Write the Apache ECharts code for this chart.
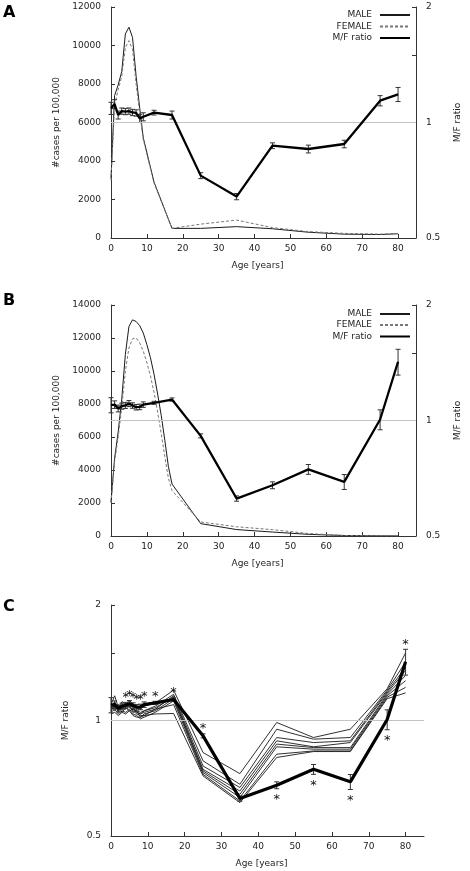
<!DOCTYPE html>
<html><head><meta charset="utf-8">
<script src="https://cdn.jsdelivr.net/npm/echarts@6/dist/echarts.min.js"></script>
<style>html,body{margin:0;padding:0;background:#fff}#c{width:470px;height:871px}</style>
</head><body><div id="c"></div>
<script>
// ---------- data ----------
const xTicks = [0,10,20,30,40,50,60,70,80];
const ratioTicks = [0.5,1,1.5,2];
const ratioLabels = [0.5,1,2];

const ageA = [0,1,2,3,4,5,6,7,8,9,12,17,25,35,45,55,65,75,80];
const maleA = [3100,7400,7950,8650,10600,10950,10420,8400,6750,5200,2900,500,500,590,480,300,200,180,220];
const femaleA = [3000,6900,7700,8400,9900,10250,9800,8000,6500,5100,2850,500,720,930,540,330,240,200,230];
const ratioA = [1.089,1.117,1.046,1.071,1.068,1.071,1.062,1.059,1.025,1.035,1.061,1.046,0.727,0.641,0.870,0.853,0.879,1.140,1.184];
const ratioAErr = [0.04,0.03,0.025,0.02,0.02,0.02,0.02,0.02,0.025,0.025,0.015,0.025,0.013,0.012,0.015,0.02,0.02,0.035,0.05];

const ageBInc = [0,1,2,3,4,5,6,7,8,9,10,11,12,13,14,15,16,17,25,35,45,55,65,75,80];
const maleB = [2060,4700,6300,8300,11000,12700,13100,13000,12750,12300,11600,10800,9800,8600,7300,5800,4200,3150,750,390,240,100,30,10,5];
const femaleB = [2000,4500,6000,7800,10000,11400,11950,12000,11700,11200,10500,9700,8700,7500,6200,4800,3500,2750,850,560,385,150,30,10,5];
const ageB = [0,1,2,3,4,5,6,7,8,9,12,17,25,35,45,55,65,75,80];
const ratioB = [1.097,1.10,1.075,1.09,1.095,1.107,1.094,1.083,1.085,1.10,1.112,1.134,0.912,0.626,0.678,0.746,0.692,1.006,1.423];
const ratioBErr = [0.05,0.025,0.022,0.02,0.02,0.02,0.018,0.018,0.018,0.018,0.01,0.011,0.011,0.01,0.014,0.022,0.031,0.06,0.11];

const ageC = [0,1,2,3,4,5,6,7,8,9,12,17,25,35,45,55,65,75,80];
const thinC1 = [1.10,1.16,1.08,1.12,1.10,1.13,1.10,1.08,1.07,1.09,1.11,1.20,0.825,0.727,0.988,0.903,0.949,1.21,1.50];
const thinC2 = [1.08,1.12,1.06,1.10,1.09,1.11,1.08,1.05,1.04,1.06,1.09,1.17,0.785,0.682,0.949,0.894,0.903,1.20,1.42];
const thinC3 = [1.06,1.10,1.05,1.08,1.07,1.09,1.06,1.04,1.03,1.03,1.07,1.16,0.761,0.669,0.903,0.876,0.885,1.19,1.375];
const thinC4 = [1.09,1.08,1.10,1.07,1.11,1.08,1.07,1.06,1.05,1.06,1.08,1.15,0.746,0.655,0.885,0.854,0.876,1.18,1.35];
const thinC5 = [1.07,1.09,1.07,1.09,1.08,1.10,1.05,1.06,1.02,1.04,1.06,1.14,0.739,0.642,0.868,0.850,0.850,1.17,1.31];
const thinC6 = [1.05,1.07,1.04,1.06,1.05,1.07,1.04,1.03,1.01,1.02,1.05,1.125,0.732,0.630,0.854,0.842,0.842,1.16,1.27];
const thinC7 = [1.08,1.06,1.09,1.05,1.08,1.06,1.07,1.05,1.04,1.05,1.07,1.10,0.724,0.617,0.817,0.833,0.833,1.15,1.22];
const thinC8 = [1.04,1.05,1.03,1.05,1.04,1.06,1.03,1.02,1.02,1.03,1.04,1.043,0.717,0.611,0.801,0.830,0.830,1.14,1.18];
const thinC = [thinC1,thinC2,thinC3,thinC4,thinC5,thinC6,thinC7,thinC8];
const boldC = ratioB;
const boldCErr = ratioBErr;
const starAges = [4,5,6,7,8,9,12,17,25,45,55,65,75,80];
const starSide = [1,1,1,1,1,1,1,1,1,-1,-1,-1,-1,1];

// ---------- chart ----------
const FONT = '"DejaVu Sans", sans-serif';
const txt = {fontFamily: FONT, fontSize: 9, color: '#222'};
const AX = '#333';

function xAxisFor(gi){
  return {type:'value', gridIndex:gi, min:0, max:85, interval:10,
    name:'Age [years]', nameLocation:'middle', nameGap:23,
    nameTextStyle:Object.assign({}, txt, {padding:[0,12,0,0]}),
    axisLine:{show:true, lineStyle:{color:AX, width:1}},
    axisTick:{show:true, inside:true, length:4, customValues:xTicks, lineStyle:{color:AX}},
    axisLabel:Object.assign({}, txt, {margin:6, customValues:xTicks}),
    splitLine:{show:false}};
}
function yLeft(gi, max){
  return {type:'value', gridIndex:gi, min:0, max:max, interval:2000, position:'left',
    name:'#cases per 100,000', nameLocation:'middle', nameGap:41, nameTextStyle:txt,
    axisLine:{show:true, lineStyle:{color:AX}},
    axisTick:{show:true, inside:true, length:4, lineStyle:{color:AX}},
    axisLabel:Object.assign({}, txt, {margin:10, formatter:function(v){return String(v);}}),
    splitLine:{show:false}};
}
function yRatio(gi, pos, gap){
  return {type:'log', logBase:2, gridIndex:gi, min:0.5, max:2, position:pos,
    name:'M/F ratio', nameLocation:'middle', nameGap:gap, nameTextStyle:txt,
    axisLine:{show:true, lineStyle:{color:AX}},
    axisTick:{show:true, inside:true, length:4, customValues:ratioTicks, lineStyle:{color:AX}},
    axisLabel:Object.assign({}, txt, {margin:10, customValues:ratioLabels}),
    splitLine:{show:false}};
}
function pairs(xs, ys){ return xs.map((x,i)=>[x, ys[i]]); }
function errSeries(xi, yi, ages, vals, errs){
  return {type:'custom', xAxisIndex:xi, yAxisIndex:yi, z:4, silent:true,
    data: ages.map((a,i)=>[a, vals[i]-errs[i], vals[i]+errs[i]]),
    encode:{x:0, y:[1,2]},
    renderItem:function(params, api){
      const lo = api.coord([api.value(0), api.value(1)]);
      const hi = api.coord([api.value(0), api.value(2)]);
      const w = 2.5, st = {stroke:'#333', lineWidth:1};
      return {type:'group', children:[
        {type:'line', shape:{x1:lo[0],y1:lo[1],x2:hi[0],y2:hi[1]}, style:st},
        {type:'line', shape:{x1:lo[0]-w,y1:lo[1],x2:lo[0]+w,y2:lo[1]}, style:st},
        {type:'line', shape:{x1:hi[0]-w,y1:hi[1],x2:hi[0]+w,y2:hi[1]}, style:st}
      ]};
    }};
}
const refLine = {silent:true, symbol:'none', label:{show:false}, animation:false,
  lineStyle:{color:'#c4c4c4', width:1, type:'solid'}, data:[{yAxis:1}]};

const series = [];
// Panel A
series.push({name:'MALE', type:'line', xAxisIndex:0, yAxisIndex:0, data:pairs(ageA, maleA), symbol:'none', z:2,
  lineStyle:{color:'#1a1a1a', width:1}, itemStyle:{color:'#1a1a1a'}});
series.push({name:'FEMALE', type:'line', xAxisIndex:0, yAxisIndex:0, data:pairs(ageA, femaleA), symbol:'none', z:2,
  lineStyle:{color:'#777', width:1, type:[3,2]}, itemStyle:{color:'#777'}});
series.push({name:'M/F ratio', type:'line', xAxisIndex:0, yAxisIndex:1, data:pairs(ageA, ratioA), symbol:'none', z:5,
  lineStyle:{color:'#000', width:2.3}, itemStyle:{color:'#000'}, markLine:refLine});
series.push(errSeries(0, 1, ageA, ratioA, ratioAErr));
// Panel B
series.push({name:'MALE', type:'line', xAxisIndex:1, yAxisIndex:2, data:pairs(ageBInc, maleB), symbol:'none', z:2,
  lineStyle:{color:'#1a1a1a', width:1}, itemStyle:{color:'#1a1a1a'}});
series.push({name:'FEMALE', type:'line', xAxisIndex:1, yAxisIndex:2, data:pairs(ageBInc, femaleB), symbol:'none', z:2,
  lineStyle:{color:'#777', width:1, type:[3,2]}, itemStyle:{color:'#777'}});
series.push({name:'M/F ratio', type:'line', xAxisIndex:1, yAxisIndex:3, data:pairs(ageB, ratioB), symbol:'none', z:5,
  lineStyle:{color:'#000', width:2.3}, itemStyle:{color:'#000'}, markLine:refLine});
series.push(errSeries(1, 3, ageB, ratioB, ratioBErr));
// Panel C
thinC.forEach((arr, k)=>{
  series.push({name:'c'+(k+1), type:'line', xAxisIndex:2, yAxisIndex:4, data:pairs(ageC, arr), symbol:'none', z:2,
    lineStyle:{color:'#1a1a1a', width:0.9}, itemStyle:{color:'#1a1a1a'}, markLine: k===0 ? refLine : undefined});
});
series.push({name:'C bold', type:'line', xAxisIndex:2, yAxisIndex:4, data:pairs(ageB, boldC), symbol:'none', z:5,
  lineStyle:{color:'#000', width:3.2}, itemStyle:{color:'#000'}});
series.push(errSeries(2, 4, ageB, boldC, boldCErr));
series.push({type:'custom', xAxisIndex:2, yAxisIndex:4, z:6, silent:true,
  data: starAges.map((a,i)=>{ const j = ageB.indexOf(a);
    return [a, starSide[i] > 0 ? boldC[j]+boldCErr[j] : boldC[j]-boldCErr[j], starSide[i]]; }),
  encode:{x:0, y:1},
  renderItem:function(params, api){
    const p = api.coord([api.value(0), api.value(1)]);
    const side = api.value(2);
    return {type:'text', x:p[0], y: side > 0 ? p[1]-5 : p[1]+11,
      style:{text:'*', font:'13px "DejaVu Sans"', fill:'#111', align:'center', verticalAlign:'middle'}};
  }});

const legends = [];
[[10.5,22,33.5],[309.5,320.5,332]].forEach(tops=>{
  ['MALE','FEMALE','M/F ratio'].forEach((nm, k)=>{
    legends.push({data:[nm], right:59, top:tops[k], orient:'horizontal', align:'right', padding:0,
      itemWidth:30, itemHeight:9, selectedMode:false,
      itemStyle:{opacity:0, borderWidth:0},
      textStyle:Object.assign({}, txt, {padding:[0,3,0,0]})});
  });
});

const grids = [
  {left:111, top:7, width:313, height:231},
  {left:111, top:305, width:313, height:231},
  {left:111, top:605, width:313, height:231}
];

const option = {
  animation:false,
  backgroundColor:'#fff',
  textStyle:{fontFamily:FONT},
  grid:grids,
  xAxis:[xAxisFor(0), xAxisFor(1), xAxisFor(2)],
  yAxis:[yLeft(0,12000), yRatio(0,'right',37), yLeft(1,14000), yRatio(1,'right',37), yRatio(2,'left',41)],
  legend:legends,
  series:series,
  graphic:[
    {type:'text', left:3, top:5, style:{text:'A', font:'bold 16px "DejaVu Sans"', fill:'#000'}},
    {type:'text', left:3, top:293, style:{text:'B', font:'bold 16px "DejaVu Sans"', fill:'#000'}},
    {type:'text', left:3, top:599, style:{text:'C', font:'bold 16px "DejaVu Sans"', fill:'#000'}}
  ]
};
const chart = echarts.init(document.getElementById('c'), null, {renderer:'canvas'});
chart.setOption(option);
</script>
</body></html>
